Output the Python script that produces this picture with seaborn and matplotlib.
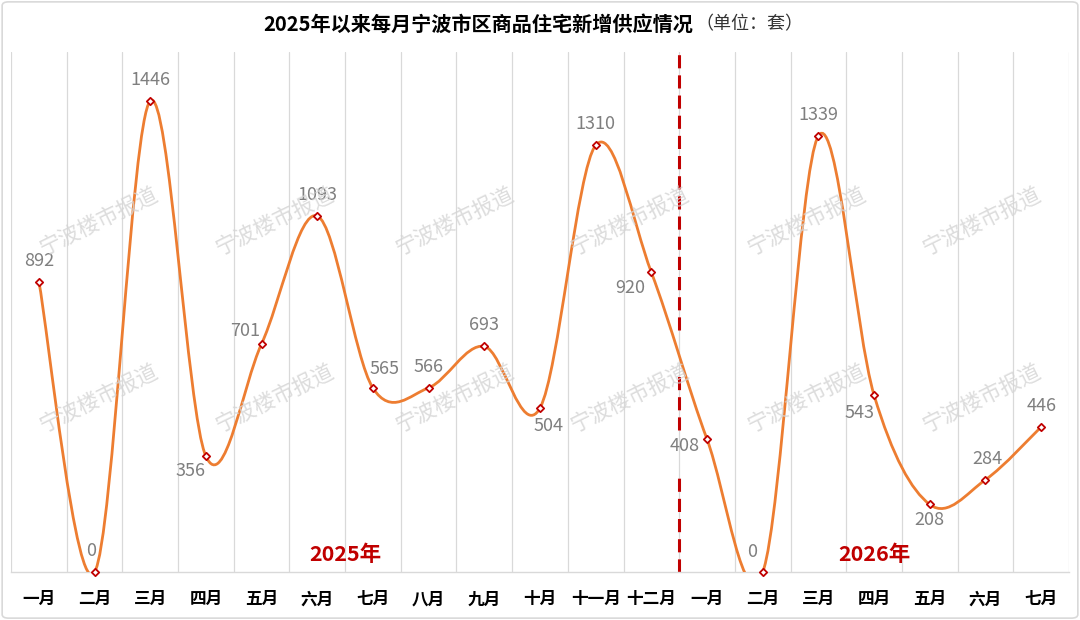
import numpy as np
import pandas as pd
import matplotlib
matplotlib.use('Agg')
import matplotlib.pyplot as plt
from matplotlib.path import Path
from matplotlib.patches import PathPatch, FancyBboxPatch
import seaborn as sns

# data
months_2025 = ['一月', '二月', '三月', '四月', '五月', '六月', '七月', '八月', '九月', '十月', '十一月', '十二月']
months_2026 = ['一月', '二月', '三月', '四月', '五月', '六月', '七月']
supply_2025 = [892, 0, 1446, 356, 701, 1093, 565, 566, 693, 504, 1310, 920]
supply_2026 = [408, 0, 1339, 543, 208, 284, 446]

title_main = '2025年以来每月宁波市区商品住宅新增供应情况'
title_unit = '（单位：套）'
year_labels = ['2025年', '2026年']
watermark = '宁波楼市报道'

labels = months_2025 + months_2026
values = supply_2025 + supply_2026
df = pd.DataFrame({'idx': np.arange(len(values)), 'month': labels, 'value': values})

sns.set_theme(style='white')
plt.rcParams['font.family'] = ['Noto Sans CJK SC', 'DejaVu Sans']

fig = plt.figure(figsize=(10.8, 6.2), dpi=100)
ax = fig.add_axes([11 / 1080, 1 - 572.3 / 620, (1069 - 11) / 1080, (572.3 - 51.7) / 620])

# vertical gridlines at category boundaries
n = len(values)
for b in np.arange(-0.5, n, 1.0):
    ax.axvline(b, color='#d9d9d9', lw=0.9, zorder=0)

# smoothed line like excel (bezier through the points)
x = df['idx'].to_numpy(float)
y = df['value'].to_numpy(float)
verts = [(x[0], y[0])]
codes = [Path.MOVETO]
for i in range(n - 1):
    p0 = np.array([x[max(i - 1, 0)], y[max(i - 1, 0)]])
    p1 = np.array([x[i], y[i]])
    p2 = np.array([x[i + 1], y[i + 1]])
    p3 = np.array([x[min(i + 2, n - 1)], y[min(i + 2, n - 1)]])
    c1 = p1 + (p2 - p0) / 6
    c2 = p2 - (p3 - p1) / 6
    verts += [tuple(c1), tuple(c2), tuple(p2)]
    codes += [Path.CURVE4] * 3
ax.add_patch(PathPatch(Path(verts, codes), facecolor='none', edgecolor='#ED7D31', lw=2.0, zorder=3))

sns.scatterplot(data=df, x='idx', y='value', marker='D', s=14, color='white',
                edgecolor='#C00000', linewidth=1.3, zorder=4, clip_on=False, ax=ax, legend=False)

# value labels
offsets = [(0, 21), (-3, 21), (0, 21), (-15, -15), (-16, 13), (0, 21), (12, 19), (0, 21), (0, 21),
           (9, -18), (0, 21), (-21, -16), (-22, -7), (-11, 20), (0, 21), (-15, -18), (0, -16), (2, 21), (0, 21)]
for i, v in enumerate(values):
    ax.annotate(str(v), (i, v), xytext=offsets[i], textcoords='offset pixels',
                ha='center', va='center', fontsize=13, color='#7f7f7f', zorder=5)

# divider between years
for lo, hi in [(0.465, 1.0), (0.273, 0.383), (0.0, 0.189)]:
    ax.axvline(len(supply_2025) - 0.5, ymin=lo, ymax=hi, color='#C00000', lw=2.2,
               dashes=(4.3, 2.3), zorder=2)

ax.text(5.5, 55, year_labels[0], ha='center', va='center', fontsize=15.5, fontweight='bold', color='#C00000')
ax.text(15, 55, year_labels[1], ha='center', va='center', fontsize=15.5, fontweight='bold', color='#C00000')

ax.set_xlim(-0.5, n - 0.5)
ax.set_ylim(0, 1597)
ax.set_xticks(range(n))
ax.set_xticklabels(labels, fontsize=12, fontweight='bold', color='black')
ax.tick_params(axis='x', length=0, pad=13)
ax.set_yticks([])
ax.set_xlabel('')
ax.set_ylabel('')
for s in ['top', 'left', 'right']:
    ax.spines[s].set_visible(False)
ax.spines['bottom'].set_color('#d9d9d9')
ax.spines['bottom'].set_linewidth(1.0)

# watermarks
for wy in [221, 398]:
    for wx in [99, 275, 455, 630, 807, 982]:
        fig.text(wx / 1080, 1 - wy / 620, watermark, rotation=26, ha='center', va='center',
                 fontsize=15.5, color='#d4d4d4', alpha=0.8, zorder=1)

# title
fig.text(693 / 1080, 1 - 24 / 620, title_main, ha='right', va='center', fontsize=14.5, fontweight='bold', color='black')
fig.text(695 / 1080, 1 - 24 / 620, title_unit, ha='left', va='center', fontsize=13, color='#333333')

fig.patches.append(FancyBboxPatch((0.002, 0.003), 0.996, 0.994, boxstyle='round,pad=0,rounding_size=0.006',
                                  transform=fig.transFigure, facecolor='none', edgecolor='#d9d9d9', lw=1.2))

fig.savefig('out.png', dpi=100)
